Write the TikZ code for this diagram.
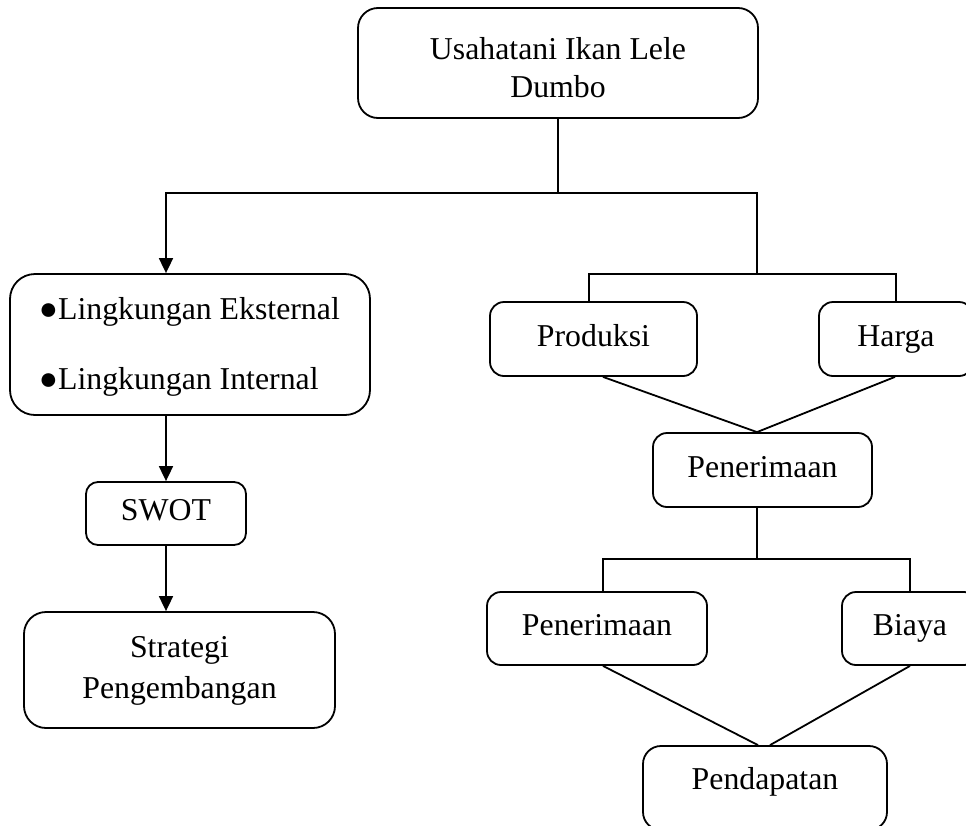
\documentclass[tikz,border=0pt]{standalone}
\usepackage{fontspec}
\setmainfont{Liberation Serif}
\usetikzlibrary{arrows.meta}
\begin{document}
\begin{tikzpicture}[x=1pt,y=-1pt,line width=1.8pt,
  font=\fontsize{31.8}{38}\selectfont,
  box/.style={draw,rounded corners=14pt,inner sep=0pt},
  sbox/.style={box,text height=22.3pt,text depth=8pt},
  txt/.style={inner sep=0pt,anchor=base},
  arr/.style={-{Triangle[length=15pt,width=14pt]}}]
\useasboundingbox (0,0) rectangle (966,825);
\clip (0,0) rectangle (966,825);
% boxes
\node[box,rounded corners=20pt,minimum width=400pt,minimum height=110pt] (top) at (558,63) {};
\node[txt] (top1) at (558,59) {Usahatani Ikan Lele};
\node[txt] (top2) at (558,97) {Dumbo};
\node[box,rounded corners=25pt,minimum width=360pt,minimum height=141pt] (ling) at (190,344.5) {};
\node[txt,anchor=base west] (le) at (38,319) {●Lingkungan Eksternal};
\node[txt,anchor=base west] (li) at (38,389) {●Lingkungan Internal};
\node[sbox,rounded corners=12pt,minimum width=160pt,minimum height=63pt] (swot) at (166,513.5) {SWOT};
\node[box,rounded corners=22pt,minimum width=311pt,minimum height=116pt] (strat) at (179.5,670) {};
\node[txt] (strat1) at (179.5,657) {Strategi};
\node[txt] (strat2) at (179.5,698) {Pengembangan};
\node[sbox,minimum width=207pt,minimum height=74pt] (prod) at (593.5,339) {Produksi};
\node[sbox,minimum width=154pt,minimum height=74pt] (harga) at (896,339) {Harga};
\node[sbox,minimum width=219pt,minimum height=74pt] (pen1) at (762.5,470) {Penerimaan};
\node[sbox,minimum width=220pt,minimum height=73pt] (pen2) at (597,628.5) {Penerimaan};
\node[sbox,minimum width=136pt,minimum height=73pt] (biaya) at (910,628.5) {Biaya};
\node[box,rounded corners=18pt,minimum width=244pt,minimum height=84pt] (pend) at (765,788) {};
\node[txt] (pendt) at (765,789) {Pendapatan};
% junctions
\coordinate (jt) at (558,193);
\coordinate (jr) at (757,274);
\coordinate (jm) at (757,559);
% connectors
\draw[arr] (top.south) -- (jt) -| (ling.north -| swot.north);
\draw (jt) -| (jr);
\draw ([xshift=-4.5pt]prod.north) |- (jr) -| (harga.north);
\draw[arr] (ling.south -| swot.north) -- (swot.north);
\draw[arr] (swot.south) -- (strat.north -| swot.south);
\draw ([xshift=9.5pt]prod.south) -- ([xshift=-5.5pt]pen1.north);
\draw ([xshift=-1pt]harga.south) -- ([xshift=-5.5pt]pen1.north);
\draw ([xshift=-5.5pt]pen1.south) -- (jm);
\draw ([xshift=6pt]pen2.north) |- (jm) -| (biaya.north);
\draw ([xshift=6pt]pen2.south) -- ([xshift=-7pt]pend.north);
\draw (biaya.south) -- ([xshift=5pt]pend.north);
\end{tikzpicture}
\end{document}
